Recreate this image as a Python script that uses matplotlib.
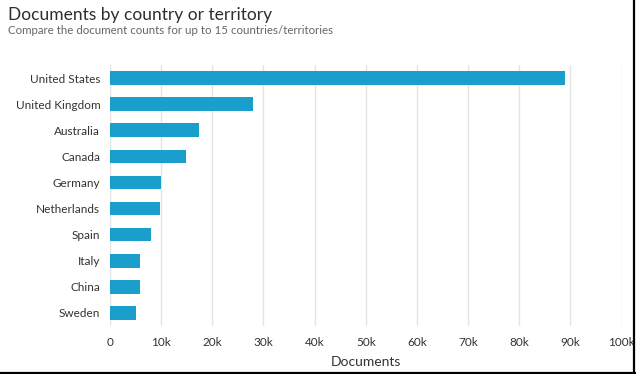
import matplotlib
matplotlib.use("Agg")
import matplotlib.pyplot as plt
from matplotlib.lines import Line2D

countries = ["United States", "United Kingdom", "Australia", "Canada", "Germany",
             "Netherlands", "Spain", "Italy", "China", "Sweden"]
documents = [88900, 28000, 17400, 14900, 10000, 9700, 8000, 5900, 5900, 5000]
xticks = [0, 10000, 20000, 30000, 40000, 50000, 60000, 70000, 80000, 90000, 100000]
xticklabels = ["0", "10k", "20k", "30k", "40k", "50k", "60k", "70k", "80k", "90k", "100k"]

plt.rcParams['font.family'] = ['Lato', 'DejaVu Sans']

fig = plt.figure(figsize=(6.36, 3.74), dpi=100)
ax = fig.add_axes([110/636, 1-326/374, (621.5-110)/636, (326-65)/374])

ypos = list(range(len(countries)))
ax.barh(ypos, documents, height=0.52, color="#1a9fcc", zorder=3)
ax.set_ylim(len(countries)-0.5, -0.5)
ax.set_yticks(ypos)
ax.set_yticklabels(countries, fontsize=8.5, color="#333333")
ax.set_xlim(0, 100000)
ax.set_xticks(xticks)
ax.set_xticklabels(xticklabels, fontsize=8.5, color="#333333")
ax.tick_params(axis='both', length=0, pad=7)
ax.tick_params(axis='x', pad=8)
ax.grid(axis='x', color="#e4e4e4", linewidth=1, zorder=0)
for s in ax.spines.values():
    s.set_visible(False)
ax.set_xlabel("Documents", fontsize=10, color="#333333", labelpad=6)

fig.text(8/636, 1-20/374, "Documents by country or territory", fontsize=12.5,
         color="#2e2e2e", ha='left', va='baseline')
fig.text(8/636, 1-34.5/374, "Compare the document counts for up to 15 countries/territories",
         fontsize=8.3, color="#666666", ha='left', va='baseline')

fig.add_artist(Line2D([0, 1], [1/374, 1/374], transform=fig.transFigure, color='black', linewidth=1.6))
fig.add_artist(Line2D([1-2/636, 1-2/636], [0, 1], transform=fig.transFigure, color='black', linewidth=1.6))

fig.savefig("out.png", dpi=100)
